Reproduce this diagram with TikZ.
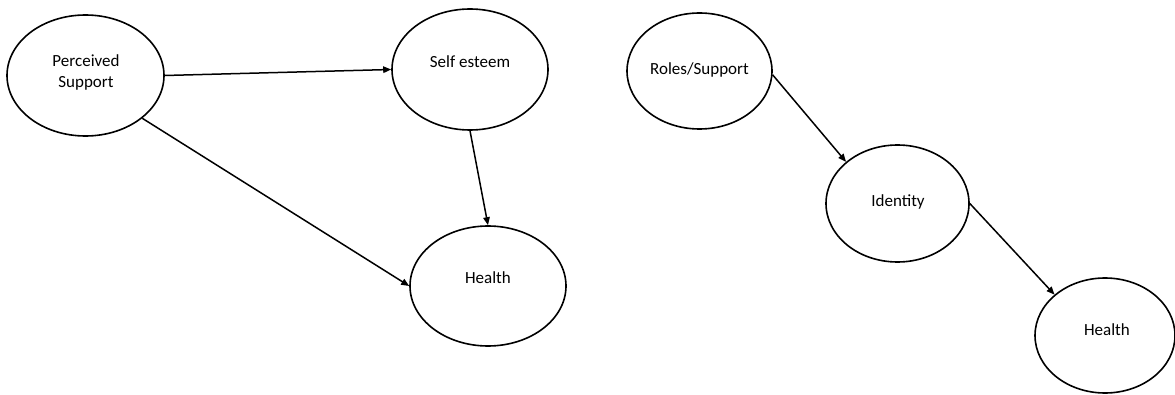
\documentclass[tikz,border=0pt]{standalone}
\usepackage{fontspec}
\setmainfont{Carlito}
\usetikzlibrary{arrows.meta,shapes.geometric}
\begin{document}
\begin{tikzpicture}[x=1pt,y=1pt,
  construct/.style={draw, ellipse, line width=1.6pt, inner sep=0pt},
  txt/.style={font=\fontsize{17}{21}\selectfont, align=center},
  link/.style={line width=1.5pt, -{Triangle[length=8pt,width=6.5pt]}, shorten >=0pt}]
  \useasboundingbox (0,0) rectangle (1175,394);
  \begin{scope}
  \clip (0,0) rectangle (1175,394);
  % left model
  \node[construct, minimum width=157pt, minimum height=121pt] (ps) at (85.5,318.5) {};
  \node[txt] (pst) at (86,321.5) {Perceived\\Support};
  \node[construct, minimum width=156pt, minimum height=121pt] (se) at (470,324.5) {};
  \node[txt] (set) at (470,332) {Self esteem};
  \node[construct, minimum width=156pt, minimum height=120pt] (hl) at (488,108) {};
  \node[txt] (hlt) at (488,116) {Health};
  % right model
  \node[construct, minimum width=145pt, minimum height=116pt] (rs) at (699.5,323) {};
  \node[txt] (rst) at (699.5,324) {Roles/Support};
  \node[construct, minimum width=143pt, minimum height=117pt] (id) at (897.5,190.5) {};
  \node[txt] (idt) at (898,192) {Identity};
  \node[construct, minimum width=140pt, minimum height=115pt] (hr) at (1105,58.5) {};
  \node[txt] (hrt) at (1107,64) {Health};
  % paths
  \draw[link] (ps.east) -- (se.west);
  \draw[link] (ps.-37) -- (hl.west);
  \draw[link] (se.south) -- (hl.north);
  \draw[link] (rs.-3) -- (id.141);
  \draw[link] (id.east) -- (hr.141);
  \end{scope}
\end{tikzpicture}
\end{document}
